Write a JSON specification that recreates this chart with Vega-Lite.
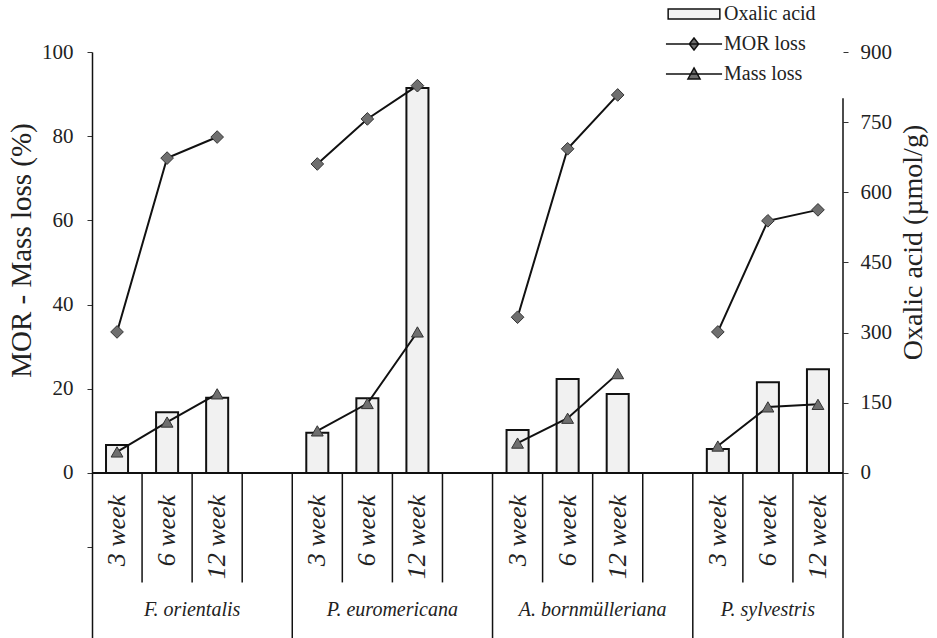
{
  "$schema": "https://vega.github.io/schema/vega-lite/v6.json",
  "width": 751,
  "height": 586,
  "autosize": "none",
  "padding": {"left": 92, "top": 52, "right": 94, "bottom": 0},
  "background": "white",
  "config": {
    "view": {"stroke": null},
    "font": "Liberation Serif",
    "axis": {
      "labelFont": "Liberation Serif",
      "labelFontSize": 21,
      "labelColor": "#222",
      "tickColor": "#333",
      "tickSize": 5,
      "domainColor": "#111",
      "domainWidth": 1.5,
      "titleFont": "Liberation Serif",
      "titleFontWeight": "normal",
      "titleColor": "#222",
      "grid": false
    },
    "legend": {"labelFont": "Liberation Serif"}
  },
  "datasets": {
    "main": [
      {"species": "F. orientalis", "week": "3 week", "slot": "F. orientalis 3 week", "oxalic": 60, "mor": 33.5, "mass": 5.0},
      {"species": "F. orientalis", "week": "6 week", "slot": "F. orientalis 6 week", "oxalic": 130, "mor": 74.8, "mass": 12.1},
      {"species": "F. orientalis", "week": "12 week", "slot": "F. orientalis 12 week", "oxalic": 161, "mor": 79.8, "mass": 18.8},
      {"species": "P. euromericana", "week": "3 week", "slot": "P. euromericana 3 week", "oxalic": 86, "mor": 73.4, "mass": 10.0},
      {"species": "P. euromericana", "week": "6 week", "slot": "P. euromericana 6 week", "oxalic": 160, "mor": 84.1, "mass": 16.5},
      {"species": "P. euromericana", "week": "12 week", "slot": "P. euromericana 12 week", "oxalic": 823, "mor": 92.0, "mass": 33.5},
      {"species": "A. bornmülleriana", "week": "3 week", "slot": "A. bornmülleriana 3 week", "oxalic": 92, "mor": 37.0, "mass": 7.1},
      {"species": "A. bornmülleriana", "week": "6 week", "slot": "A. bornmülleriana 6 week", "oxalic": 201, "mor": 77.0, "mass": 13.0},
      {"species": "A. bornmülleriana", "week": "12 week", "slot": "A. bornmülleriana 12 week", "oxalic": 169, "mor": 89.8, "mass": 23.6},
      {"species": "P. sylvestris", "week": "3 week", "slot": "P. sylvestris 3 week", "oxalic": 51, "mor": 33.5, "mass": 6.4},
      {"species": "P. sylvestris", "week": "6 week", "slot": "P. sylvestris 6 week", "oxalic": 194, "mor": 59.9, "mass": 15.7},
      {"species": "P. sylvestris", "week": "12 week", "slot": "P. sylvestris 12 week", "oxalic": 222, "mor": 62.5, "mass": 16.3}
    ],
    "shortSep": [
      {"slot": "F. orientalis 6 week"}, {"slot": "F. orientalis 12 week"}, {"slot": "F. orientalis gap"},
      {"slot": "P. euromericana 6 week"}, {"slot": "P. euromericana 12 week"}, {"slot": "P. euromericana gap"},
      {"slot": "A. bornmülleriana 6 week"}, {"slot": "A. bornmülleriana 12 week"}, {"slot": "A. bornmülleriana gap"},
      {"slot": "P. sylvestris 6 week"}, {"slot": "P. sylvestris 12 week"}
    ],
    "fullSep": [
      {"slot": "P. euromericana 3 week"}, {"slot": "A. bornmülleriana 3 week"}, {"slot": "P. sylvestris 3 week"}
    ],
    "groups": [
      {"label": "F. orientalis", "slot": "F. orientalis 12 week"},
      {"label": "P. euromericana", "slot": "P. euromericana 12 week"},
      {"label": "A. bornmülleriana", "slot": "A. bornmülleriana 12 week"}
    ],
    "groupLast": [
      {"label": "P. sylvestris", "slot": "P. sylvestris 6 week"}
    ],
    "legend": [
      {"series": "Oxalic acid"}, {"series": "MOR loss"}, {"series": "Mass loss"}
    ]
  },
  "layer": [
    {
      "data": {"name": "main"},
      "mark": {"type": "bar", "width": {"band": 0.44}, "fill": "#f1f1f1", "stroke": "#111", "strokeWidth": 2},
      "encoding": {
        "x": {
          "field": "slot", "type": "nominal", "axis": null, "sort": null,
          "scale": {
            "domain": [
              "F. orientalis 3 week", "F. orientalis 6 week", "F. orientalis 12 week", "F. orientalis gap",
              "P. euromericana 3 week", "P. euromericana 6 week", "P. euromericana 12 week", "P. euromericana gap",
              "A. bornmülleriana 3 week", "A. bornmülleriana 6 week", "A. bornmülleriana 12 week", "A. bornmülleriana gap",
              "P. sylvestris 3 week", "P. sylvestris 6 week", "P. sylvestris 12 week"
            ],
            "paddingInner": 0, "paddingOuter": 0
          }
        },
        "y": {
          "field": "oxalic", "type": "quantitative",
          "scale": {"domain": [-352.8, 900], "nice": false, "zero": false},
          "axis": {
            "orient": "right", "values": [0, 150, 300, 450, 600, 750, 900],
            "domain": false, "labelPadding": 12,
            "labelFont": "Liberation Serif", "titleFont": "Liberation Serif",
            "title": "Oxalic acid (µmol/g)", "titleFontSize": 28,
            "titleAngle": -90, "titleX": 70, "titleY": 190, "titleAlign": "center", "titleBaseline": "middle"
          }
        }
      }
    },
    {
      "data": {"name": "main"},
      "mark": {"type": "line", "color": "#111", "strokeWidth": 2,
        "point": {"shape": "diamond", "filled": true, "fill": "#6f6f6f", "stroke": "#333", "strokeWidth": 1, "size": 160}},
      "encoding": {
        "x": {"field": "slot", "type": "nominal", "axis": null},
        "y": {"field": "mor", "type": "quantitative",
          "scale": {"domain": [-39.2, 100], "nice": false, "zero": false},
          "axis": {
            "orient": "left", "values": [-17.5, 0, 20, 40, 60, 80, 100],
            "labelExpr": "datum.value < 0 ? '' : datum.label",
            "labelPadding": 14,
            "labelFont": "Liberation Serif", "titleFont": "Liberation Serif",
            "title": "MOR - Mass loss (%)", "titleFontSize": 29,
            "titleAngle": -90, "titleX": -71, "titleY": 198, "titleAlign": "center", "titleBaseline": "middle"
          }
        },
        "detail": {"field": "species"}
      }
    },
    {
      "data": {"name": "main"},
      "mark": {"type": "line", "color": "#111", "strokeWidth": 2,
        "point": {"shape": "triangle-up", "filled": true, "fill": "#6f6f6f", "stroke": "#333", "strokeWidth": 1, "size": 140}},
      "encoding": {
        "x": {"field": "slot", "type": "nominal", "axis": null},
        "y": {"field": "mass", "type": "quantitative", "axis": null,
          "scale": {"domain": [-39.2, 100], "nice": false, "zero": false}},
        "detail": {"field": "species"}
      }
    },
    {
      "data": {"name": "main"},
      "mark": {"type": "rule", "color": "#111", "strokeWidth": 1.5},
      "encoding": {
        "y": {"datum": 0, "type": "quantitative", "axis": null,
          "scale": {"domain": [-39.2, 100], "nice": false, "zero": false}}
      }
    },
    {
      "data": {"name": "shortSep"},
      "mark": {"type": "rule", "color": "#111", "strokeWidth": 1.5},
      "encoding": {
        "x": {"field": "slot", "type": "nominal", "bandPosition": 0, "axis": null},
        "y": {"datum": 0, "type": "quantitative", "axis": null,
          "scale": {"domain": [-39.2, 100], "nice": false, "zero": false}},
        "y2": {"datum": -26}
      }
    },
    {
      "data": {"name": "fullSep"},
      "mark": {"type": "rule", "color": "#111", "strokeWidth": 1.5},
      "encoding": {
        "x": {"field": "slot", "type": "nominal", "bandPosition": 0, "axis": null},
        "y": {"datum": 0, "type": "quantitative", "axis": null,
          "scale": {"domain": [-39.2, 100], "nice": false, "zero": false}},
        "y2": {"datum": -39.2}
      }
    },
    {
      "data": {"name": "groupLast"},
      "mark": {"type": "rule", "color": "#111", "strokeWidth": 1.5},
      "encoding": {
        "x": {"datum": "P. sylvestris 12 week", "type": "nominal", "bandPosition": 1, "axis": null},
        "y": {"datum": 89, "type": "quantitative", "axis": null,
          "scale": {"domain": [-39.2, 100], "nice": false, "zero": false}},
        "y2": {"datum": -39.2}
      }
    },
    {
      "data": {"name": "main"},
      "mark": {"type": "text", "angle": -90, "align": "right", "baseline": "middle", "font": "Liberation Serif", "fontStyle": "italic", "fontSize": 26, "color": "#222"},
      "encoding": {
        "x": {"field": "slot", "type": "nominal", "axis": null},
        "y": {"datum": -5.2, "type": "quantitative", "axis": null,
          "scale": {"domain": [-39.2, 100], "nice": false, "zero": false}},
        "text": {"field": "week"}
      }
    },
    {
      "data": {"name": "groups"},
      "mark": {"type": "text", "align": "center", "baseline": "middle", "font": "Liberation Serif", "fontStyle": "italic", "fontSize": 20, "color": "#222"},
      "encoding": {
        "x": {"field": "slot", "type": "nominal", "bandPosition": 0, "axis": null},
        "y": {"datum": -32.5, "type": "quantitative", "axis": null,
          "scale": {"domain": [-39.2, 100], "nice": false, "zero": false}},
        "text": {"field": "label"}
      }
    },
    {
      "data": {"name": "groupLast"},
      "mark": {"type": "text", "align": "center", "baseline": "middle", "font": "Liberation Serif", "fontStyle": "italic", "fontSize": 20, "color": "#222"},
      "encoding": {
        "x": {"field": "slot", "type": "nominal", "axis": null},
        "y": {"datum": -32.5, "type": "quantitative", "axis": null,
          "scale": {"domain": [-39.2, 100], "nice": false, "zero": false}},
        "text": {"field": "label"}
      }
    },
    {
      "data": {"name": "legend"},
      "mark": {"type": "point", "opacity": 0, "size": 121, "filled": true, "stroke": "#111", "strokeWidth": 1.5},
      "encoding": {
        "color": {
          "field": "series", "type": "nominal",
          "scale": {
            "domain": ["Oxalic acid", "MOR loss", "Mass loss"],
            "range": ["#f4f4f4", "#6f6f6f", "#6f6f6f"]
          },
          "legend": {
            "orient": "none", "legendX": 592, "legendY": -48,
            "title": null, "padding": 0, "rowPadding": 10,
            "labelFont": "Liberation Serif", "labelFontSize": 20, "labelColor": "#222",
            "labelOffset": 20, "symbolSize": 121,
            "encode": {"symbols": {"update": {"opacity": {"value": 1}, "stroke": {"value": "#111"}, "strokeWidth": {"value": 1.5}}}}
          }
        },
        "shape": {
          "field": "series", "type": "nominal",
          "scale": {
            "domain": ["Oxalic acid", "MOR loss", "Mass loss"],
            "range": [
              "M-4.7,-0.9H4.7V0.9H-4.7Z",
              "M-5.1,0H5.1M0,-1.1L0.85,0L0,1.1L-0.85,0Z",
              "M-5.1,0H5.1M0,-1.1L1.1,0.9H-1.1Z"
            ]
          },
          "legend": {
            "orient": "none", "legendX": 592, "legendY": -48,
            "title": null, "padding": 0, "rowPadding": 10,
            "labelFont": "Liberation Serif", "labelFontSize": 20, "labelColor": "#222",
            "labelOffset": 20, "symbolSize": 121,
            "encode": {"symbols": {"update": {"opacity": {"value": 1}, "stroke": {"value": "#111"}, "strokeWidth": {"value": 1.5}}}}
          }
        }
      }
    }
  ],
  "resolve": {"scale": {"y": "independent"}, "axis": {"y": "independent"}}
}
